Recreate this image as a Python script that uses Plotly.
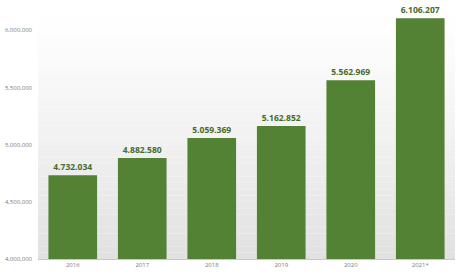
import plotly.graph_objects as go

years = ["2016", "2017", "2018", "2019", "2020", "2021*"]
values = [4732034, 4882580, 5059369, 5162852, 5562969, 6106207]
tick_vals = [4000000, 4500000, 5000000, 5500000, 6000000]

labels = [f"{v:,}".replace(",", ".") for v in values]

fig = go.Figure()
fig.add_trace(go.Bar(
    x=years, y=values,
    marker=dict(color="#548235", line=dict(width=0)),
    text=labels, textposition="outside",
    textfont=dict(family="Open Sans", size=8.5, color="#466b2a", weight="bold"),
    cliponaxis=False,
))

# vertical grey gradient background
shapes = []
n = 40
for i in range(n):
    y0 = 1 - i / n
    y1 = 1 - (i + 1) / n
    t = i / (n - 1)
    g = int(round(255 - 30 * (t ** 1.2)))
    c = f"rgb({g},{g},{g})"
    shapes.append(dict(type="rect", xref="paper", yref="paper", x0=0, x1=1,
                       y0=y1, y1=y0, fillcolor=c, line=dict(width=0), layer="below"))

fig.update_layout(
    width=461, height=276,
    margin=dict(l=38, r=6, t=5, b=17),
    paper_bgcolor="white",
    plot_bgcolor="rgba(0,0,0,0)",
    bargap=0.30,
    showlegend=False,
    shapes=shapes,
    xaxis=dict(showgrid=False, showline=True, linecolor="#c8c8c8", linewidth=1,
               tickfont=dict(family="Open Sans", size=6, color="#7a7a7a"),
               ticks="", ticklen=0),
    yaxis=dict(range=[4000000, 6222000], tickvals=tick_vals, tickformat=",d",
               showgrid=False, zeroline=False, showline=False,
               tickfont=dict(family="Open Sans", size=6, color="#7a7a7a"),
               ticks="", ticklabelstandoff=5),
)

fig.write_html("out.html")
